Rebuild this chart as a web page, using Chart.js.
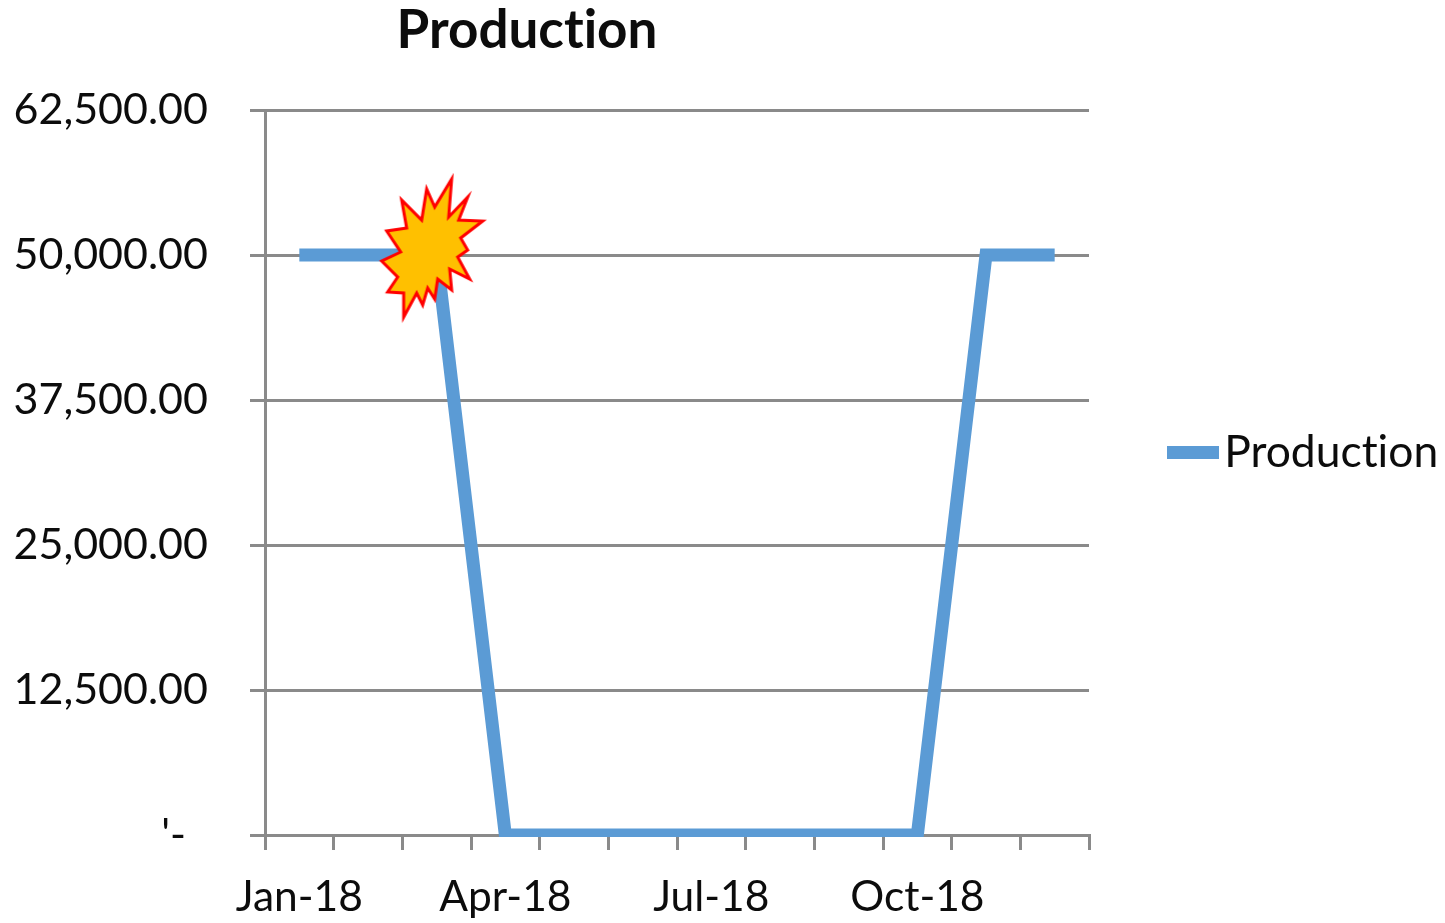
<!DOCTYPE html>
<html>
<head>
<meta charset="utf-8">
<title>Production</title>
<style>
  html, body { margin: 0; padding: 0; background: #fff; }
  canvas { display: block; }
</style>
<script src="https://cdn.jsdelivr.net/npm/chart.js@4/dist/chart.umd.min.js"></script>
</head>
<body>
<canvas id="chart" width="1445" height="923"></canvas>
<script>
var months = ['Jan-18', 'Feb-18', 'Mar-18', 'Apr-18', 'May-18', 'Jun-18', 'Jul-18', 'Aug-18', 'Sep-18', 'Oct-18', 'Nov-18', 'Dec-18'];
var production = [50000, 50000, 50000, 0, 0, 0, 0, 0, 0, 0, 50000, 50000];
var shockMarker = [null, null, 50000, null, null, null, null, null, null, null, null, null];
var yTicks = ["'-  ", '12,500.00', '25,000.00', '37,500.00', '50,000.00', '62,500.00'];

var INK = '#0c0c0c';
var BLUE = '#5b9bd5';
var GREY = '#8a8a8a';

// explosion outline, offsets from the marker's anchor point
var burstOutline = [
  [15, -76], [12, -38], [31, -58], [22, -35], [46, -34], [24, -17], [31, -5], [21, 2],
  [33, 24], [13, 14], [15, 35], [1, 24], [-2, 44], [-9, 33], [-14, 50], [-20, 38],
  [-33, 62], [-33, 38], [-49, 37], [-39, 22], [-55, 6], [-36, -3], [-50, -24], [-30, -27],
  [-35, -55], [-15, -35], [-10, -66], [-2, -48]
];

function makeBurst() {
  var size = 180;
  var cv = document.createElement('canvas');
  cv.width = size;
  cv.height = size;
  var c = cv.getContext('2d');
  c.translate(size / 2, size / 2);
  c.beginPath();
  burstOutline.forEach(function (p, i) {
    if (i === 0) c.moveTo(p[0], p[1]); else c.lineTo(p[0], p[1]);
  });
  c.closePath();
  c.fillStyle = '#ffc000';
  c.fill();
  c.strokeStyle = '#ff0000';
  c.lineWidth = 3;
  c.lineJoin = 'miter';
  c.stroke();
  return cv;
}

function makeSwatch() {
  var cv = document.createElement('canvas');
  cv.width = 52;
  cv.height = 13;
  var c = cv.getContext('2d');
  c.fillStyle = BLUE;
  c.fillRect(0, 0, 52, 13);
  return cv;
}

// title sits over the plot rather than the page, legend a bit above centre.
// Lato's "ti" ligature is switched off through textRendering.
var placeBlocks = {
  id: 'placeBlocks',
  beforeUpdate: function (chart) {
    chart.ctx.textRendering = 'optimizeSpeed';
  },
  afterLayout: function (chart) {
    var t = chart.titleBlock;
    t.left -= 195.5;
    t.right -= 195.5;
    var l = chart.legend;
    l.top -= 9;
    l.bottom -= 9;
  }
};

new Chart(document.getElementById('chart'), {
  type: 'line',
  plugins: [placeBlocks],
  data: {
    labels: months,
    datasets: [
      {
        label: 'Production',
        data: production,
        borderColor: BLUE,
        backgroundColor: BLUE,
        borderWidth: 13,
        borderJoinStyle: 'miter',
        borderCapStyle: 'butt',
        tension: 0,
        pointRadius: 0,
        clip: { left: false, top: false, right: false, bottom: 2 },
        order: 2
      },
      {
        label: 'Burst',
        data: shockMarker,
        showLine: false,
        pointStyle: makeBurst(),
        clip: false,
        order: 1
      }
    ]
  },
  options: {
    responsive: false,
    animation: false,
    events: [],
    layout: { padding: 0 },
    plugins: {
      tooltip: { enabled: false },
      title: {
        display: true,
        text: 'Production',
        color: INK,
        font: { family: 'Lato', size: 53, weight: 'bold', lineHeight: 1.17 },
        padding: { top: 0, bottom: 48 }
      },
      legend: {
        position: 'right',
        maxWidth: 356,
        labels: {
          usePointStyle: true,
          pointStyle: makeSwatch(),
          pointStyleWidth: 18,
          padding: 95,
          color: INK,
          font: { family: 'Lato', size: 44.4 },
          filter: function (item) { return item.text === 'Production'; }
        }
      }
    },
    scales: {
      x: {
        offset: true,
        afterFit: function (s) { s.height = 88; },
        grid: { offset: true, drawOnChartArea: false, color: GREY, lineWidth: 3, tickLength: 15 },
        border: { color: GREY, width: 3 },
        ticks: {
          autoSkip: false,
          maxRotation: 0,
          color: INK,
          padding: 22,
          font: { family: 'Lato', size: 42.5 },
          callback: function (v, i) { return i % 3 === 0 ? months[i] : ''; }
        }
      },
      y: {
        min: 0,
        max: 62500,
        afterFit: function (s) { s.width = 265; },
        grid: { color: GREY, lineWidth: 3, tickLength: 15 },
        border: { color: GREY, width: 3 },
        ticks: {
          stepSize: 12500,
          color: INK,
          padding: 42,
          font: { family: 'Lato', size: 43 },
          callback: function (v, i) { return yTicks[i]; }
        }
      }
    }
  }
});
</script>
</body>
</html>
